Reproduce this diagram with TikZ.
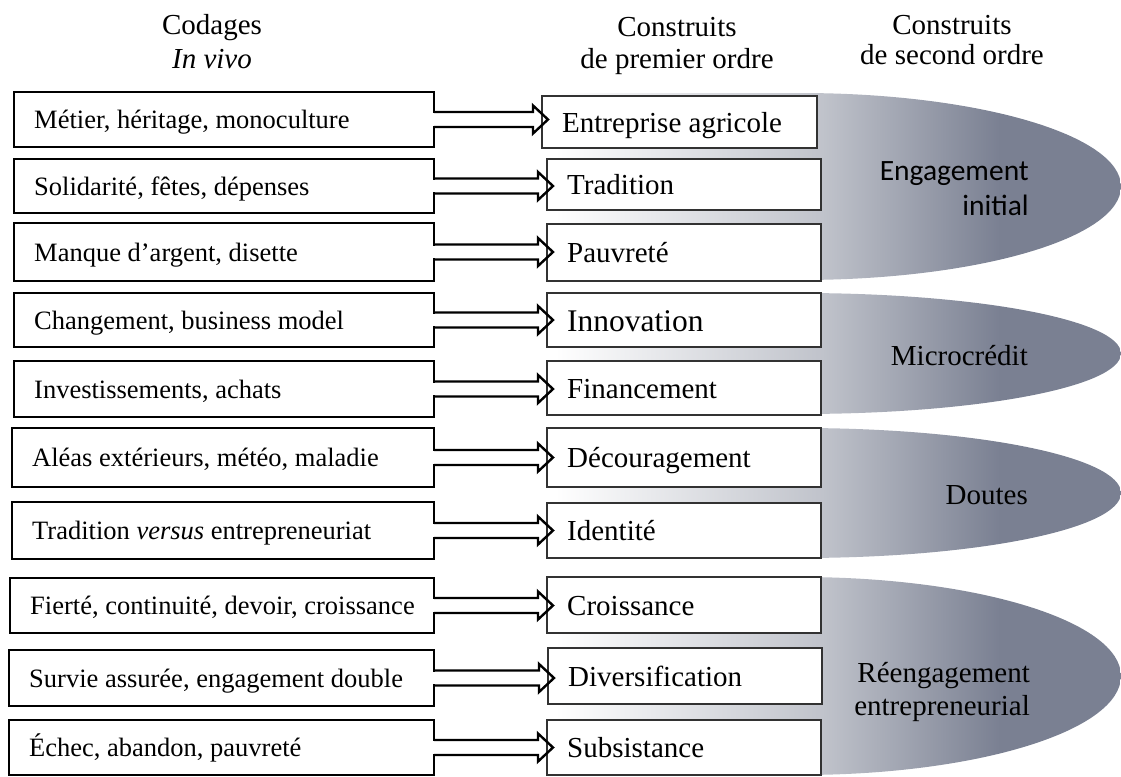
\documentclass[tikz,border=0pt]{standalone}
\usepackage{fontspec}
\setmainfont{Liberation Serif}
\newfontfamily\calib{Carlito}
\usetikzlibrary{calc}
\definecolor{glight}{RGB}{192,195,203}
\definecolor{gdark}{RGB}{122,128,146}
\definecolor{rboxline}{RGB}{50,50,50}
\pgfdeclarehorizontalshading{grshade}{100bp}{color(0bp)=(white); color(25bp)=(white); color(48.6bp)=(glight); color(64.3bp)=(gdark); color(100bp)=(gdark)}
\begin{document}
\begin{tikzpicture}[x=1pt,y=1pt,
  lbox/.style={draw=black, line width=2.4pt, fill=white, inner sep=0pt, outer sep=0pt, anchor=north west, minimum width=420pt},
  rbox/.style={draw=rboxline, line width=1.3pt, fill=white, inner sep=0pt, outer sep=0pt, anchor=north west, minimum width=274pt},
  ltext/.style={anchor=base west, inner sep=0pt, font=\fontsize{26.5}{30}\selectfont},
  rtext/.style={anchor=base west, inner sep=0pt, font=\fontsize{29}{33}\selectfont},
  conn/.style={draw=black, line width=2.4pt, line join=miter},
  grp/.style={shading=grshade},
  glabel/.style={anchor=base east, align=right, inner sep=0pt, text=black},
  head/.style={anchor=base, align=center, inner sep=0pt},
]
\useasboundingbox (0,0) rectangle (1121,-776);

% second-order groups
\shade[grp] (555,-93) -- (800,-93) arc[start angle=90, end angle=-90, x radius=321, y radius=93.5] -- (555,-280) -- cycle;
\shade[grp] (555,-293) -- (800,-293) arc[start angle=90, end angle=-90, x radius=321, y radius=60.5] -- (555,-414) -- cycle;
\shade[grp] (555,-428) -- (800,-428) arc[start angle=90, end angle=-90, x radius=321, y radius=65] -- (555,-558) -- cycle;
\shade[grp] (555,-577) -- (800,-577) arc[start angle=90, end angle=-90, x radius=321, y radius=99] -- (555,-775) -- cycle;

% first-order constructs
\node[rbox, minimum width=275pt, minimum height=52pt] (r1) at (542,-96) {};
\node[rbox, minimum height=51pt] (r2) at (547,-159) {};
\node[rbox, minimum height=57pt] (r3) at (547,-224) {};
\node[rbox, minimum height=54pt] (r4) at (547,-293) {};
\node[rbox, minimum height=54pt] (r5) at (547,-361) {};
\node[rbox, minimum height=59pt] (r6) at (547,-428) {};
\node[rbox, minimum height=55pt] (r7) at (547,-503) {};
\node[rbox, minimum height=56pt] (r8) at (547,-577) {};
\node[rbox, minimum height=56pt] (r9) at (548,-648) {};
\node[rbox, minimum height=55pt] (r10) at (547,-720) {};

\node[rtext] (rt1) at ([shift={(20pt,-10pt)}]r1.west) {Entreprise agricole};
\node[rtext] (rt2) at ([shift={(20pt,-10pt)}]r2.west) {Tradition};
\node[rtext] (rt3) at ([shift={(20pt,-10pt)}]r3.west) {Pauvreté};
\node[rtext, font=\fontsize{31.5}{35}\selectfont] (rt4) at ([shift={(20pt,-11pt)}]r4.west) {Innovation};
\node[rtext] (rt5) at ([shift={(20pt,-10pt)}]r5.west) {Financement};
\node[rtext] (rt6) at ([shift={(20pt,-10pt)}]r6.west) {Découragement};
\node[rtext] (rt7) at ([shift={(20pt,-10pt)}]r7.west) {Identité};
\node[rtext] (rt8) at ([shift={(20pt,-10pt)}]r8.west) {Croissance};
\node[rtext] (rt9) at ([shift={(20pt,-10pt)}]r9.west) {Diversification};
\node[rtext] (rt10) at ([shift={(20pt,-10pt)}]r10.west) {Subsistance};

% in vivo codes
\node[lbox, minimum height=55pt] (l1) at (14,-92) {};
\node[lbox, minimum height=54pt] (l2) at (14,-159) {};
\node[lbox, minimum height=58pt] (l3) at (14,-223) {};
\node[lbox, minimum height=54pt] (l4) at (14,-293) {};
\node[lbox, minimum height=56pt] (l5) at (14,-361) {};
\node[lbox, minimum width=422pt, minimum height=59pt] (l6) at (12,-428) {};
\node[lbox, minimum width=422pt, minimum height=57pt] (l7) at (12,-502) {};
\node[lbox, minimum width=424pt, minimum height=55pt] (l8) at (10,-578) {};
\node[lbox, minimum width=425pt, minimum height=56pt] (l9) at (9,-650) {};
\node[lbox, minimum width=425pt, minimum height=55pt] (l10) at (9,-720) {};

\node[ltext] (lt1) at ([shift={(20pt,-9pt)}]l1.west) {Métier, héritage, monoculture};
\node[ltext] (lt2) at ([shift={(20pt,-9pt)}]l2.west) {Solidarité, fêtes, dépenses};
\node[ltext] (lt3) at ([shift={(20pt,-9pt)}]l3.west) {Manque d’argent, disette};
\node[ltext] (lt4) at ([shift={(20pt,-9pt)}]l4.west) {Changement, business model};
\node[ltext] (lt5) at ([shift={(20pt,-9pt)}]l5.west) {Investissements, achats};
\node[ltext] (lt6) at ([shift={(20pt,-9pt)}]l6.west) {Aléas extérieurs, météo, maladie};
\node[ltext] (lt7) at ([shift={(20pt,-9pt)}]l7.west) {Tradition \textit{versus} entrepreneuriat};
\node[ltext] (lt8) at ([shift={(20pt,-9pt)}]l8.west) {Fierté, continuité, devoir, croissance};
\node[ltext] (lt9) at ([shift={(20pt,-9pt)}]l9.west) {Survie assurée, engagement double};
\node[ltext] (lt10) at ([shift={(20pt,-9pt)}]l10.west) {Échec, abandon, pauvreté};

% connectors
\foreach \i in {1,...,10}{
  \fill[white] let \p1=(l\i.east) in (\x1-1.3,\y1-6.3) rectangle (\x1+1.3,\y1+6.3);
  \draw[conn] let \p1=(l\i.east), \p2=(r\i.west) in
    (\x1,\y1+7.5) -- (\x2-9,\y1+7.5) -- (\x2-9,\y1+14) -- (\x2+6,\y1) -- (\x2-9,\y1-14) -- (\x2-9,\y1-7.5) -- (\x1,\y1-7.5);
}

% group labels (base = baseline of the last line)
\node[glabel, font=\calib\fontsize{29.5}{35}\selectfont] (g1) at (1029,-215) {Engagement\\initial};
\node[glabel, font=\fontsize{29}{33}\selectfont] (g2) at (1028,-365) {Microcrédit};
\node[glabel, font=\fontsize{29}{33}\selectfont] (g3) at (1028,-504) {Doutes};
\node[glabel, font=\fontsize{29}{33}\selectfont] (g4) at (1030,-715) {Réengagement\\entrepreneurial};

% headers (base = baseline of the last line)
\node[head, font=\fontsize{29}{34}\selectfont] (h1) at (212,-68) {Codages\\\textit{In vivo}};
\node[head, font=\fontsize{29}{32}\selectfont] (h2) at (677,-68) {Construits\\de premier ordre};
\node[head, font=\fontsize{29}{31}\selectfont] (h3) at (952,-65) {Construits\\de second ordre};
\end{tikzpicture}
\end{document}
